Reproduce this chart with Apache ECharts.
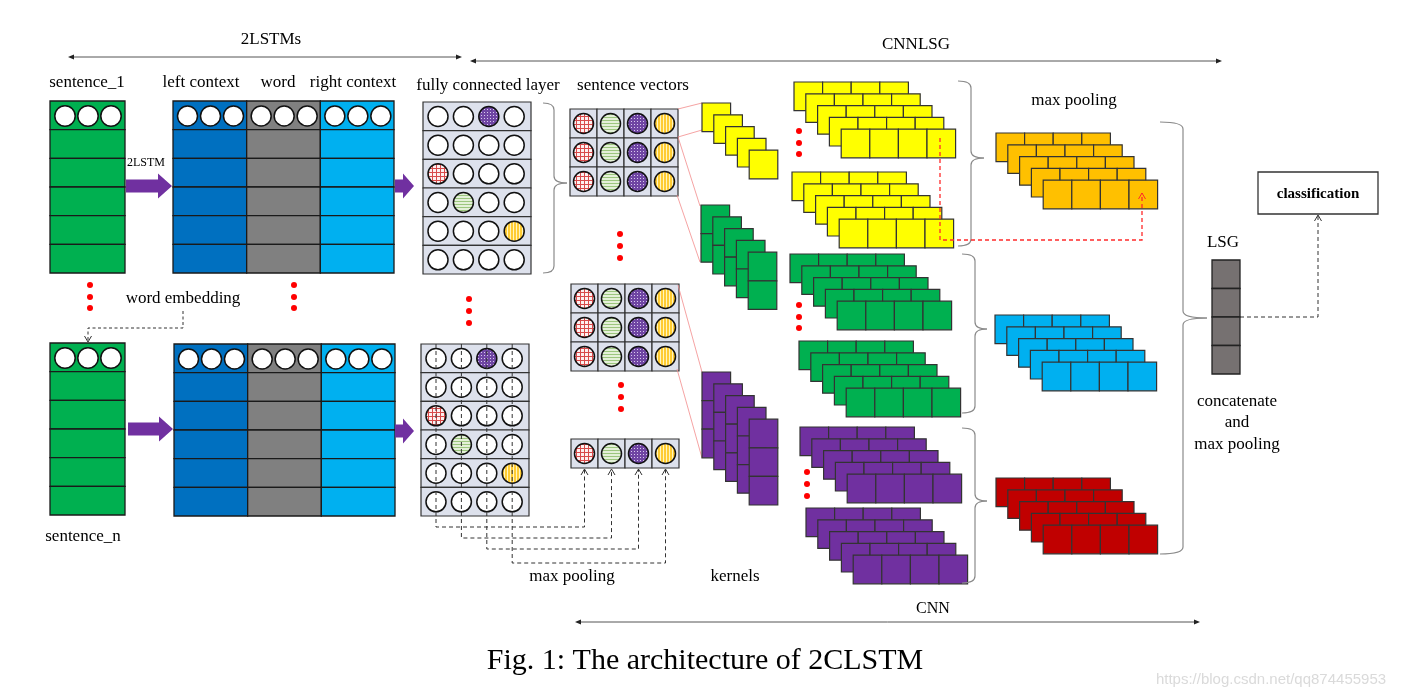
<!DOCTYPE html>
<html><head><meta charset="utf-8">
<script src="https://cdn.jsdelivr.net/npm/echarts@6/dist/echarts.min.js"></script>
<style>html,body{margin:0;padding:0;background:#fff}#c{width:1402px;height:698px}</style>
</head><body><div id="c"></div>
<script>
// ---------------- diagram content (structure) ----------------
const LABELS = [
  ['2LSTMs', 271, 40, 17, 'normal'],
  ['CNNLSG', 916, 45, 17, 'normal'],
  ['sentence_1', 87, 83, 17, 'normal'],
  ['left context', 201, 83, 17, 'normal'],
  ['word', 278, 83, 17, 'normal'],
  ['right context', 353, 83, 17, 'normal'],
  ['fully connected layer', 488, 86, 17, 'normal'],
  ['sentence vectors', 633, 86, 17, 'normal'],
  ['max pooling', 1074, 101, 17, 'normal'],
  ['2LSTM', 146, 163, 12, 'normal'],
  ['word embedding', 183, 299, 17, 'normal'],
  ['sentence_n', 83, 537, 17, 'normal'],
  ['max pooling', 572, 577, 17, 'normal'],
  ['kernels', 735, 577, 17, 'normal'],
  ['LSG', 1223, 243, 17, 'normal'],
  ['concatenate', 1237, 402, 17, 'normal'],
  ['and', 1237, 423, 17, 'normal'],
  ['max pooling', 1237, 445, 17, 'normal'],
  ['classification', 1318, 194, 15, 'bold'],
  ['CNN', 933, 609, 16, 'normal'],
  ['Fig. 1: The architecture of 2CLSTM', 705, 661, 30, 'normal']
];
const WATERMARK = ['https://blog.csdn.net/qq874455953', 1271, 680];

const EMBED_BLOCKS = [[50, 101], [50, 343]];           // sentence_1, sentence_n
const CONTEXT_BLOCKS = [[173, 101], [174, 344]];      // left context | word | right context
const FC_BLOCKS = [[423, 102, false], [421, 344, true]];
const FC_MARKS = [[0, 2, 'purple'], [2, 0, 'red'], [3, 1, 'green'], [4, 3, 'yellow']];
const SV_BLOCKS = [[570, 109, 3], [571, 284, 3], [571, 439, 1]];
const SV_ORDER = ['red', 'green', 'purple', 'yellow'];
const POOL_DROP = [527, 538, 549, 563];
const KERNELS = [[702, 103, 1, 'yellow'], [701, 205, 2, 'green'], [702, 372, 3, 'purple']];
const FEATURE_MAPS = [[794, 82, 'yellow'], [792, 172, 'yellow'], [790, 254, 'green'],
                      [799, 341, 'green'], [800, 427, 'purple'], [806, 508, 'purple']];
const POOLED = [[996, 133, 'orange'], [995, 315, 'lblue'], [996, 478, 'dred']];
const BRACES = [[543, 554, 567, 103, 183, 273], [958, 971, 984, 81, 158, 246],
                [962, 975, 987, 254, 329, 413], [962, 975, 987, 428, 501, 583],
                [1160, 1183, 1207, 122, 318, 554]];
const RED_DOTS = [[90, 285], [90, 297], [90, 308], [294, 285], [294, 297], [294, 308],
                  [469, 299], [469, 311], [469, 323], [620, 234], [620, 246], [620, 258],
                  [621, 385], [621, 397], [621, 409], [799, 131], [799, 143], [799, 154],
                  [799, 305], [799, 317], [799, 328], [807, 472], [807, 484], [807, 496]];
const KERNEL_LINKS = [[678, 109, 702, 103], [678, 137, 702, 130], [678, 137, 700, 206],
                      [677, 195, 700, 262], [678, 285, 702, 372], [677, 369, 702, 458]];
const BIG_ARROWS = [[126, 172, 186], [395, 414, 186], [128, 173, 429], [395, 414, 431]];
const SPAN_ARROWS = [[68, 462, 57], [470, 1222, 61], [575, 1200, 622]];
const LSG_CELLS = 4;

// ---------------- styles ----------------
const SERIF = '"Liberation Serif","Times New Roman",serif';
const COLORS = { green: '#00B050', dblue: '#0070C0', gray: '#808080', lblue: '#00B0F0',
  purple: '#7030A0', yellow: '#FFFF00', orange: '#FFC000', dred: '#C00000', fc: '#DDE1EC', lsg: '#767171' };

function mkPattern(w, h, bg, fg, rects) {
  const c = document.createElement('canvas'); c.width = w; c.height = h;
  const x = c.getContext('2d'); x.fillStyle = bg; x.fillRect(0, 0, w, h);
  x.fillStyle = fg; rects.forEach(r => x.fillRect(r[0], r[1], r[2], r[3]));
  return { image: c, repeat: 'repeat' };
}
const PATTERNS = {
  red: mkPattern(4, 4, '#fdf0f0', '#d84a4a', [[0, 0, 4, 1], [0, 0, 1, 4]]),
  green: mkPattern(4, 3, '#e4f0d8', '#9cc67e', [[0, 0, 4, 1]]),
  purple: mkPattern(3, 3, '#6f45a3', '#d9cbee', [[1, 1, 1, 1]]),
  yellow: mkPattern(3, 3, '#ffcc33', '#fff5c0', [[0, 0, 1, 3]])
};

function renderAll(params, api) {
  const ch = [];
  const P = (x, y) => api.coord([x, y]);
  const rect = (x, y, w, h, fill, stroke, lw) => { const a = P(x, y), b = P(x + w, y + h);
    ch.push({ type: 'rect', shape: { x: a[0], y: a[1], width: b[0] - a[0], height: b[1] - a[1] },
      style: { fill: fill, stroke: stroke, lineWidth: lw } }); };
  const circle = (x, y, r, fill, stroke, lw) => { const a = P(x, y), s = P(x + r, y)[0] - a[0];
    ch.push({ type: 'circle', shape: { cx: a[0], cy: a[1], r: s }, style: { fill: fill, stroke: stroke, lineWidth: lw } }); };
  const line = (pts, stroke, lw, dash) => ch.push({ type: 'polyline', shape: { points: pts.map(p => P(p[0], p[1])) },
      style: { fill: 'none', stroke: stroke, lineWidth: lw, lineDash: dash || null } });
  const poly = (pts, fill, stroke, lw) => ch.push({ type: 'polygon', shape: { points: pts.map(p => P(p[0], p[1])) },
      style: { fill: fill, stroke: stroke || 'none', lineWidth: lw || 0 } });
  const quad = (x1, y1, cx, cy, x2, y2, stroke, lw) => { const a = P(x1, y1), c = P(cx, cy), b = P(x2, y2);
    ch.push({ type: 'bezierCurve', shape: { x1: a[0], y1: a[1], cpx1: c[0], cpy1: c[1], x2: b[0], y2: b[1] },
      style: { fill: 'none', stroke: stroke, lineWidth: lw } }); };
  const text = (s, x, y, size, weight, color, family) => { const a = P(x, y);
    ch.push({ type: 'text', x: a[0], y: a[1], style: { text: s, fill: color || '#000', fontSize: size,
      fontWeight: weight || 'normal', fontFamily: family || SERIF, align: 'center', verticalAlign: 'middle' } }); };
  const openHead = (x, y, dir, color) => { // dir: 'up' | 'down'
    const s = dir === 'up' ? 1 : -1;
    line([[x - 3.5, y + 6 * s], [x, y], [x + 3.5, y + 6 * s]], color, 1); };

  // span arrows at top / bottom
  SPAN_ARROWS.forEach(([x0, x1, y]) => {
    line([[x0 + 3, y], [x1 - 3, y]], '#555', 1);
    poly([[x0, y], [x0 + 6, y - 2.5], [x0 + 6, y + 2.5]], '#222');
    poly([[x1, y], [x1 - 6, y - 2.5], [x1 - 6, y + 2.5]], '#222');
  });

  const ROWH = 172 / 6;
  // word embedding blocks
  EMBED_BLOCKS.forEach(([x, y]) => {
    for (let r = 0; r < 6; r++) rect(x, y + r * ROWH, 75, ROWH, COLORS.green, '#1a1a1a', 1.3);
    for (let i = 0; i < 3; i++) circle(x + 15 + 23 * i, y + 15, 10.2, '#fff', '#111', 1.5);
  });
  // context blocks
  const CTX_COLORS = [COLORS.dblue, COLORS.gray, COLORS.lblue];
  const CW = 221 / 3;
  CONTEXT_BLOCKS.forEach(([x, y]) => {
    for (let c = 0; c < 3; c++) {
      for (let r = 0; r < 6; r++) rect(x + c * CW, y + r * ROWH, CW, ROWH, CTX_COLORS[c], '#1a1a1a', 1.3);
      for (let i = 0; i < 3; i++) circle(x + c * CW + 14.5 + 23 * i, y + 15, 10, '#fff', '#111', 1.5);
    }
  });
  // purple arrows
  BIG_ARROWS.forEach(([x0, x1, yc]) => {
    const xh = x1 - (x1 - x0 > 30 ? 14 : 11);
    poly([[x0, yc - 6.5], [xh, yc - 6.5], [xh, yc - 12.5], [x1, yc], [xh, yc + 12.5], [xh, yc + 6.5], [x0, yc + 6.5]], COLORS.purple);
  });

  // fully connected layers
  const FCW = 108;
  FC_BLOCKS.forEach(([x, y, dashed]) => {
    for (let r = 0; r < 6; r++) {
      rect(x, y + r * ROWH, FCW, ROWH, COLORS.fc, '#333', 1.2);
      for (let c = 0; c < 4; c++) {
        const m = FC_MARKS.find(k => k[0] === r && k[1] === c);
        circle(x + 15 + 25.4 * c, y + r * ROWH + 14.5, 10, m ? PATTERNS[m[2]] : '#fff', '#111', 1.5);
      }
    }
    if (dashed) {
      for (let c = 0; c < 4; c++) {
        const cx = x + 15 + 25.4 * c;
        const tx = SV_BLOCKS[2][0] + 13.5 + 27 * c;
        const ty = SV_BLOCKS[2][1] + 29;
        line([[cx, y], [cx, POOL_DROP[c]], [tx, POOL_DROP[c]], [tx, ty + 1]], '#333', 1, [4, 3]);
        openHead(tx, ty + 1, 'up', '#333');
      }
    }
  });
  // sentence vectors
  SV_BLOCKS.forEach(([x, y, rows]) => {
    for (let r = 0; r < rows; r++) for (let c = 0; c < 4; c++) {
      rect(x + 27 * c, y + 29 * r, 27, 29, COLORS.fc, '#333', 1.2);
      circle(x + 27 * c + 13.5, y + 29 * r + 14.5, 10, PATTERNS[SV_ORDER[c]], '#111', 1.5);
    }
  });
  // thin links to kernels
  KERNEL_LINKS.forEach(([a, b, c, d]) => line([[a, b], [c, d]], '#F28C8C', 0.8));

  // kernels
  const CELL = 28.6, STEP = 11.8;
  KERNELS.forEach(([x, y, rows, col]) => {
    for (let l = 0; l < 5; l++) for (let r = 0; r < rows; r++)
      rect(x + l * STEP, y + l * STEP + r * CELL, CELL, CELL, COLORS[col], '#333', 1.2);
  });
  // feature maps and pooled maps
  [...FEATURE_MAPS, ...POOLED].forEach(([x, y, col]) => {
    for (let l = 0; l < 5; l++) for (let c = 0; c < 4; c++)
      rect(x + l * STEP + c * CELL, y + l * STEP, CELL, CELL, COLORS[col], '#333', 1.2);
  });

  // braces
  BRACES.forEach(([xl, xv, xt, yt, ym, yb]) => {
    const col = '#8a8a8a', lw = 1.2, k = 7;
    quad(xl, yt, xv, yt, xv, yt + k, col, lw);
    line([[xv, yt + k], [xv, ym - k]], col, lw);
    quad(xv, ym - k, xv, ym, xt, ym, col, lw);
    quad(xt, ym, xv, ym, xv, ym + k, col, lw);
    line([[xv, ym + k], [xv, yb - k]], col, lw);
    quad(xv, yb - k, xv, yb, xl, yb, col, lw);
  });

  // LSG column and classification
  for (let i = 0; i < LSG_CELLS; i++) rect(1212, 260 + i * 28.5, 28, 28.5, COLORS.lsg, '#222', 1.3);
  rect(1258, 172, 120, 42, '#fff', '#333', 1.3);
  line([[1240, 317], [1318, 317], [1318, 215]], '#333', 1, [4, 3]);
  openHead(1318, 215, 'up', '#333');
  // word embedding link
  line([[183, 311], [183, 328], [88, 328], [88, 342]], '#333', 1, [3, 2.5]);
  openHead(88, 342, 'down', '#333');
  // red max-pooling link
  line([[940, 138], [940, 240], [1142, 240], [1142, 193]], '#FF2A2A', 1.3, [4, 3]);
  openHead(1142, 193, 'up', '#FF2A2A');

  // red ellipsis dots
  RED_DOTS.forEach(([x, y]) => circle(x, y, 3, '#FF0000', 'none', 0));

  // labels
  LABELS.forEach(([s, x, y, size, w]) => text(s, x, y, size, w));
  text(WATERMARK[0], WATERMARK[1], WATERMARK[2], 15, 'normal', '#dadada', '"Liberation Sans",Arial,sans-serif');

  return { type: 'group', children: ch };
}

const chart = echarts.init(document.getElementById('c'), null, { renderer: 'canvas' });
chart.setOption({
  animation: false,
  backgroundColor: '#fff',
  grid: { left: 0, right: 0, top: 0, bottom: 0 },
  xAxis: { type: 'value', min: 0, max: 1402, show: false },
  yAxis: { type: 'value', min: 0, max: 698, inverse: true, show: false },
  series: [{ type: 'custom', coordinateSystem: 'cartesian2d', silent: true, clip: false,
    data: [[0, 0]], renderItem: renderAll }]
});
</script>
</body></html>
